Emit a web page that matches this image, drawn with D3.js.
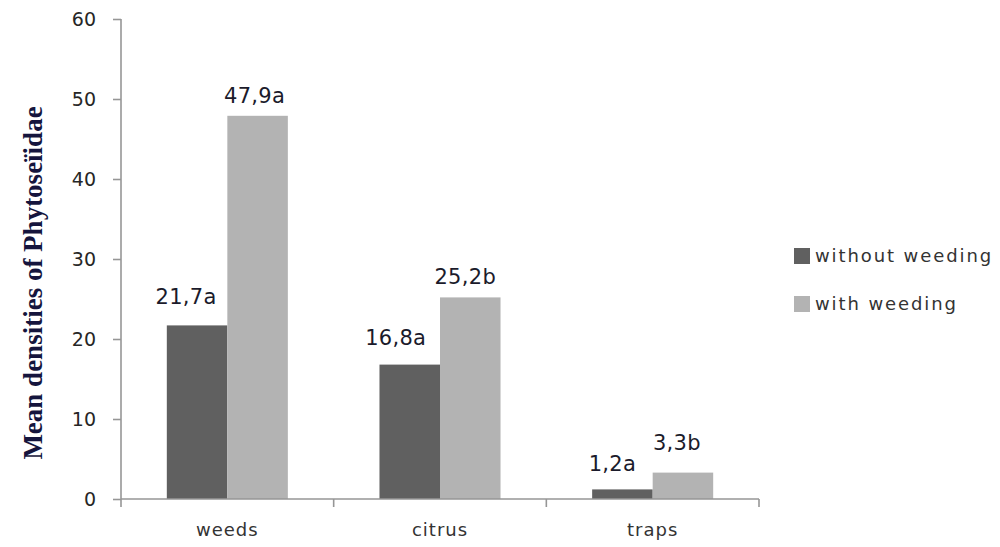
<!DOCTYPE html>
<html>
<head>
<meta charset="utf-8">
<script src="https://cdn.jsdelivr.net/npm/d3@7"></script>
<style>
  html, body { margin: 0; padding: 0; background: #fff; }
  svg { display: block; }
</style>
</head>
<body>
<svg id="chart" width="1000" height="547"></svg>
<script>
// ---- data ----
const categories = ["weeds", "citrus", "traps"];
const seriesNames = ["without weeding", "with weeding"];
const withoutWeeding = [21.7, 16.8, 1.2];
const withWeeding = [47.9, 25.2, 3.3];
const labelsWithout = ["21,7a", "16,8a", "1,2a"];
const labelsWith = ["47,9a", "25,2b", "3,3b"];
const yTicks = [0, 10, 20, 30, 40, 50, 60];
const yTitle = "Mean densities of Phytoseïidae";

// ---- layout / style ----
(function () {
const colors = ["#606060", "#b3b3b3"];
const svg = d3.select("#chart");
const pLeft = 121, pRight = 759, pTop = 19, pBottom = 499;

const x0 = d3.scaleBand().domain(categories).range([pLeft, pRight]).paddingInner(0).paddingOuter(0);
const x1 = d3.scaleBand().domain(seriesNames).range([0, x0.bandwidth()]).paddingInner(0).paddingOuter(0.757);
const y = d3.scaleLinear().domain([0, 60]).range([pBottom, pTop]);

const rows = categories.map((c, i) => ({
  cat: c,
  vals: [
    { s: seriesNames[0], v: withoutWeeding[i], lab: labelsWithout[i] },
    { s: seriesNames[1], v: withWeeding[i], lab: labelsWith[i] }
  ]
}));

// bars
const g = svg.append("g");
rows.forEach(r => {
  r.vals.forEach((d, j) => {
    g.append("rect")
      .attr("x", x0(r.cat) + x1(d.s))
      .attr("y", y(d.v))
      .attr("width", x1.bandwidth())
      .attr("height", y(0) - y(d.v))
      .attr("fill", colors[j]);
  });
});

// y axis
const yAxis = d3.axisLeft(y).tickValues(yTicks).tickSize(8).tickPadding(17).tickFormat(d3.format("d"));
const ya = svg.append("g").attr("transform", `translate(${pLeft},0)`).call(yAxis);
ya.select(".domain").attr("stroke", "#969696").attr("stroke-width", 1.6).attr("d", `M0,${pTop}V${pBottom}`);
ya.selectAll(".tick line").attr("stroke", "#969696").attr("stroke-width", 1.6);
ya.selectAll(".tick text").attr("fill", "#262626").style("font-family", "DejaVu Sans").style("font-size", "19px");

// x axis
const xAxis = d3.axisBottom(x0).tickSize(0).tickPadding(24);
const xa = svg.append("g").attr("transform", `translate(0,${pBottom})`).call(xAxis);
xa.select(".domain").attr("stroke", "#969696").attr("stroke-width", 1.6).attr("d", `M${pLeft},0H${pRight}`);
xa.selectAll(".tick text").attr("fill", "#333").style("font-family", "DejaVu Sans").style("font-size", "18px").style("letter-spacing", "1px");
const sepPos = categories.map(c => x0(c)).concat([x0(categories[categories.length - 1]) + x0.bandwidth()]);
xa.selectAll(".sep").data(sepPos).enter().append("line")
  .attr("x1", d => d).attr("x2", d => d).attr("y1", 0).attr("y2", 8)
  .attr("stroke", "#969696").attr("stroke-width", 1.6);

// data labels
const labDx = [[-11, -3], [-14, -5], [-10, -6]];
const labDy = [[21, 13], [20, 13], [18, 23]];
rows.forEach((r, i) => {
  r.vals.forEach((d, j) => {
    svg.append("text")
      .attr("x", x0(r.cat) + x1(d.s) + x1.bandwidth() / 2 + labDx[i][j])
      .attr("y", y(d.v) - labDy[i][j])
      .attr("text-anchor", "middle")
      .attr("fill", "#1b1b2b")
      .style("font-family", "DejaVu Sans")
      .style("font-size", "21px")
      .style("letter-spacing", "0.3px")
      .text(d.lab);
  });
});

// legend
const lg = svg.append("g").attr("transform", "translate(794,0)");
seriesNames.forEach((s, j) => {
  const cy = 256 + j * 48;
  lg.append("rect").attr("x", 0).attr("y", cy - 8).attr("width", 16).attr("height", 16).attr("fill", colors[j]);
  lg.append("text").attr("x", 21).attr("y", cy + 6)
    .attr("fill", "#333")
    .style("font-family", "DejaVu Sans")
    .style("font-size", "18px")
    .style("letter-spacing", "1.9px")
    .text(s);
});

// y title
svg.append("text")
  .attr("transform", `translate(42,${(pTop + pBottom) / 2 + 24}) rotate(-90)`)
  .attr("text-anchor", "middle")
  .attr("fill", "#15153d")
  .style("font-family", "Liberation Serif")
  .style("font-weight", "bold")
  .style("font-size", "27px")
  .text(yTitle);
})();
</script>
</body>
</html>
